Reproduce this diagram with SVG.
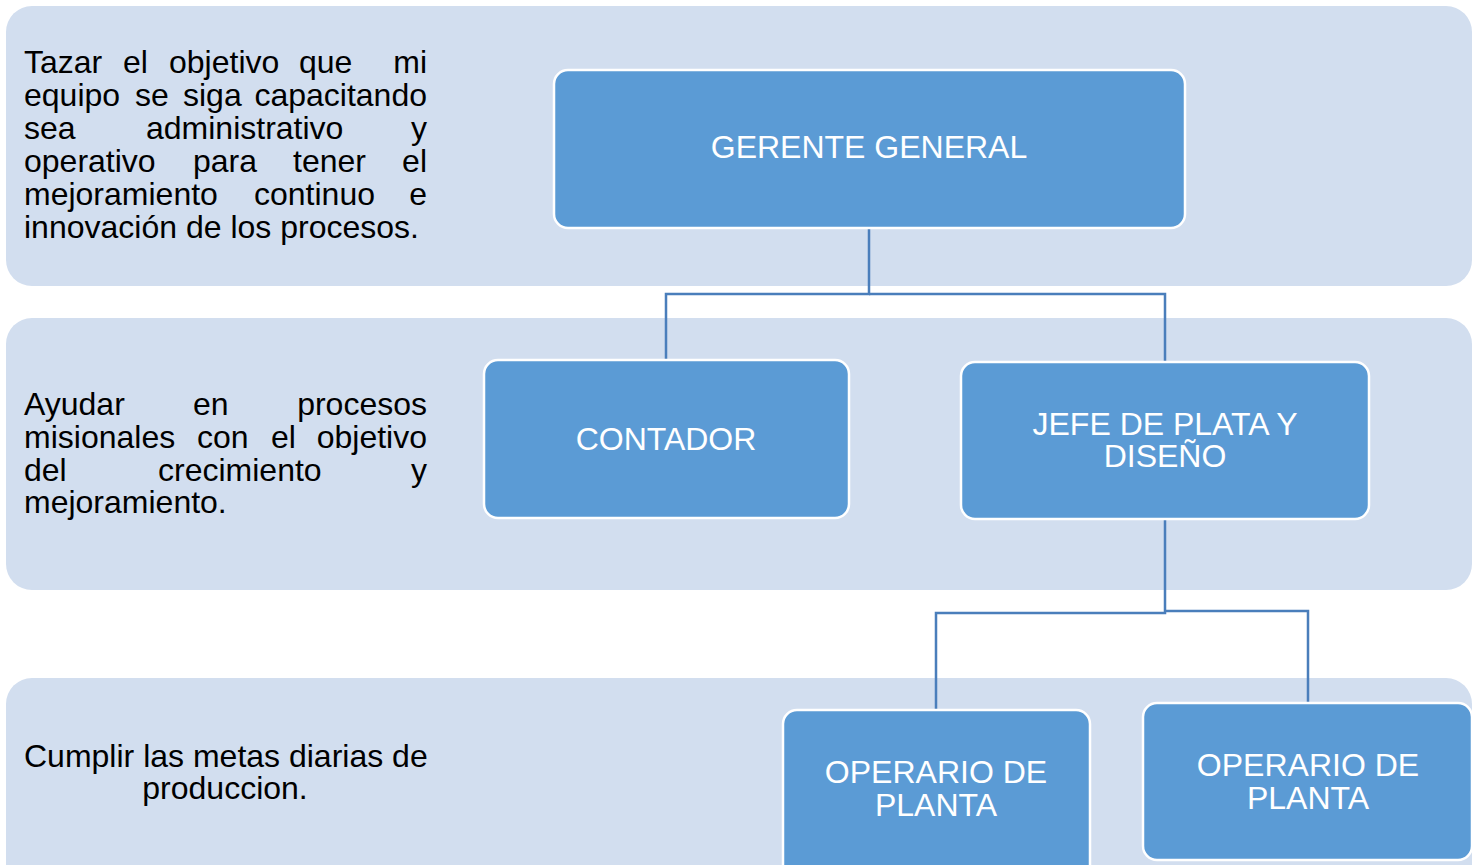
<svg xmlns="http://www.w3.org/2000/svg" width="1479" height="865" viewBox="0 0 1479 865">
<style>
.band{fill:#D2DEEF;}
.box{fill:#5B9BD5;stroke:#FFFFFF;stroke-width:2.5;}
.lbl{font-family:"Liberation Sans",Arial,sans-serif;font-size:32px;fill:#FFFFFF;text-anchor:middle;}
.txt{font-family:"Liberation Sans",Arial,sans-serif;font-size:32px;fill:#000000;}
.end{text-anchor:end;}
.mid{text-anchor:middle;}
.conn{fill:none;stroke:#4A7EBB;stroke-width:2.5;}
</style>
<rect width="1479" height="865" fill="#FFFFFF"/>
<g id="band1">
<rect class="band" x="6" y="6" width="1466" height="280" rx="26"/>
<text class="txt" y="73"><tspan x="24">Tazar</tspan><tspan x="123">el</tspan><tspan x="169">objetivo</tspan><tspan x="299">que</tspan><tspan x="427" class="end">mi</tspan></text>
<text class="txt" y="106"><tspan x="24">equipo</tspan><tspan x="135">se</tspan><tspan x="183">siga</tspan><tspan x="427" class="end">capacitando</tspan></text>
<text class="txt" y="139"><tspan x="24">sea</tspan><tspan x="146">administrativo</tspan><tspan x="427" class="end">y</tspan></text>
<text class="txt" y="172"><tspan x="24">operativo</tspan><tspan x="193">para</tspan><tspan x="293">tener</tspan><tspan x="427" class="end">el</tspan></text>
<text class="txt" y="205"><tspan x="24">mejoramiento</tspan><tspan x="254">continuo</tspan><tspan x="427" class="end">e</tspan></text>
<text class="txt" x="24" y="238">innovación de los procesos.</text>
</g>
<g id="band2">
<rect class="band" x="6" y="318" width="1466" height="272" rx="26"/>
<text class="txt" y="415"><tspan x="24">Ayudar</tspan><tspan x="193">en</tspan><tspan x="427" class="end">procesos</tspan></text>
<text class="txt" y="448"><tspan x="24">misionales</tspan><tspan x="197">con</tspan><tspan x="271">el</tspan><tspan x="427" class="end">objetivo</tspan></text>
<text class="txt" y="481"><tspan x="24">del</tspan><tspan x="158">crecimiento</tspan><tspan x="427" class="end">y</tspan></text>
<text class="txt" x="24" y="513">mejoramiento.</text>
</g>
<g id="band3">
<rect class="band" x="6" y="678" width="1466" height="240" rx="26"/>
<text class="txt" x="24" y="767">Cumplir las metas diarias de</text>
<text class="txt mid" x="225" y="799">produccion.</text>
</g>
<g id="connectors">
<polyline class="conn" points="869,228 869,294 666,294 666,359"/>
<polyline class="conn" points="869,294 1165,294 1165,361"/>
<polyline class="conn" points="1165,519 1165,613 936,613 936,709"/>
<polyline class="conn" points="1165,611 1308,611 1308,702"/>
</g>
<g id="gerente">
<rect class="box" x="554" y="70" width="631" height="158" rx="14"/>
<text class="lbl" x="869" y="158">GERENTE GENERAL</text>
</g>
<g id="contador">
<rect class="box" x="484" y="360" width="365" height="158" rx="14"/>
<text class="lbl" x="666" y="450">CONTADOR</text>
</g>
<g id="jefe">
<rect class="box" x="961" y="362" width="408" height="157" rx="14"/>
<text class="lbl" x="1165" y="435">JEFE DE PLATA Y</text>
<text class="lbl" x="1165" y="467">DISEÑO</text>
</g>
<g id="operario1">
<rect class="box" x="783" y="710" width="307" height="175" rx="14"/>
<text class="lbl" x="936" y="783">OPERARIO DE</text>
<text class="lbl" x="936" y="816">PLANTA</text>
</g>
<g id="operario2">
<rect class="box" x="1143" y="703" width="329" height="157" rx="14"/>
<text class="lbl" x="1308" y="776">OPERARIO DE</text>
<text class="lbl" x="1308" y="809">PLANTA</text>
</g>
</svg>
